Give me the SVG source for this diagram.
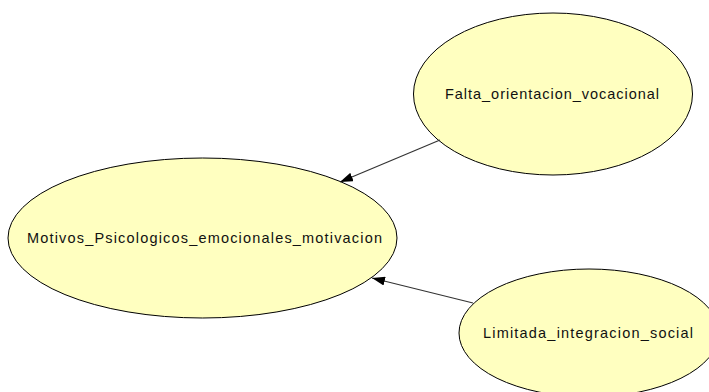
<svg xmlns="http://www.w3.org/2000/svg" width="709" height="392" viewBox="0 0 709 392">
  <style>
    .node ellipse { fill: #ffffc0; stroke: #000; stroke-width: 1; }
    .node text { font-family: "Liberation Sans", Arial, sans-serif; font-size: 14.5px; fill: #111; text-anchor: middle; }
    .edge { stroke: #333; stroke-width: 1.2; fill: none; marker-end: url(#arrow); }
  </style>
  <defs>
    <marker id="arrow" viewBox="0 0 13 9" refX="13" refY="4.5" markerWidth="13" markerHeight="9" markerUnits="userSpaceOnUse" orient="auto">
      <path d="M0,0 L13,4.5 L0,9 z" fill="#000"/>
    </marker>
  </defs>
  <rect width="709" height="392" fill="#fff"/>

  <g id="motivos" class="node">
    <ellipse cx="202.5" cy="238" rx="194.5" ry="80"/>
    <text x="204.5" y="243" textLength="355" lengthAdjust="spacing">Motivos_Psicologicos_emocionales_motivacion</text>
  </g>

  <g id="falta" class="node">
    <ellipse cx="553" cy="94" rx="139.5" ry="81"/>
    <text x="552" y="99" textLength="214" lengthAdjust="spacing">Falta_orientacion_vocacional</text>
  </g>

  <g id="limitada" class="node">
    <ellipse cx="589" cy="333" rx="130" ry="64"/>
    <text x="588" y="338" textLength="210" lengthAdjust="spacing">Limitada_integracion_social</text>
  </g>

  <g id="connectors">
    <line class="edge" x1="440" y1="140" x2="340" y2="182"/>
    <line class="edge" x1="473" y1="303" x2="372" y2="278"/>
  </g>
</svg>
